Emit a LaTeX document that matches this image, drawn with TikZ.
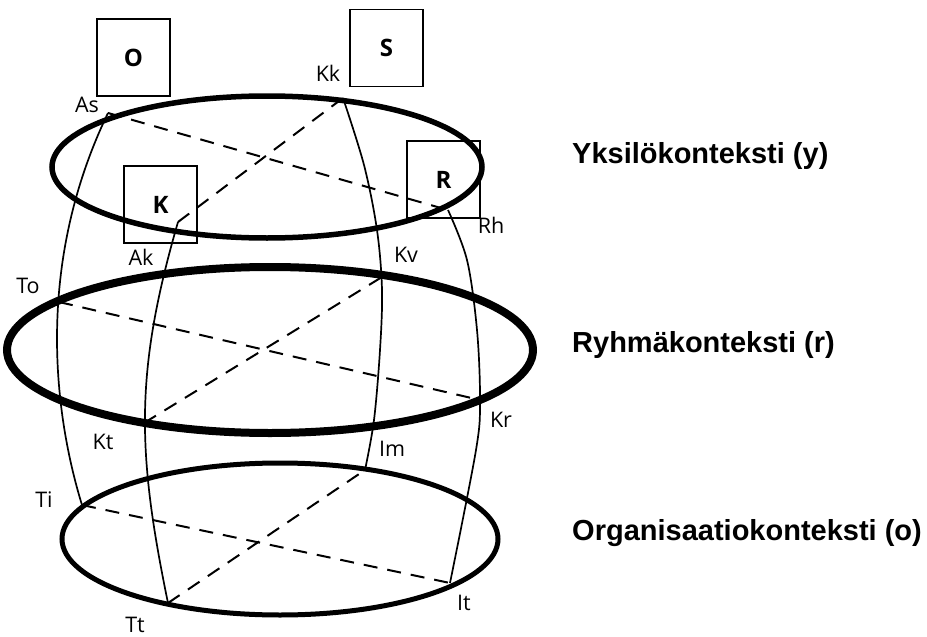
\documentclass[tikz,border=0pt]{standalone}
\usepackage{fontspec}
\setmainfont{Open Sans}
\newfontfamily\ctxfont{Liberation Sans}
\begin{document}
\begin{tikzpicture}[x=1pt,y=-1pt,
  ring/.style={line width=5.5pt},
  ringthick/.style={line width=8pt},
  ringlow/.style={line width=5pt},
  meridian/.style={line width=1.7pt},
  chord/.style={line width=2pt, dash pattern=on 14pt off 10pt},
  box/.style={draw, line width=1.5pt, minimum width=73pt, minimum height=77pt,
    inner sep=0pt, font=\fontsize{24}{24}\selectfont\bfseries},
  lbl/.style={inner sep=0pt, anchor=base, font=\fontsize{21.5}{21.5}\selectfont},
  ctx/.style={inner sep=0pt, anchor=base west,
    font=\ctxfont\fontsize{29}{29}\selectfont\bfseries}]
\useasboundingbox (0,0) rectangle (927,637);

% the three context rings
\draw[ring] (267,167) ellipse [x radius=215pt, y radius=71pt];
\draw[ringthick] (270,350) ellipse [x radius=263pt, y radius=83pt];
\draw[ringlow] (280,539) ellipse [x radius=218pt, y radius=76pt];

% meeting points on the rings
\coordinate (As) at (108,113);
\coordinate (Kk) at (343,98);
\coordinate (Ak) at (178,222);
\coordinate (Rh) at (448,210);
\coordinate (To) at (59,302);
\coordinate (Kv) at (382,277);
\coordinate (Kt) at (144,423);
\coordinate (Kr) at (480,400);
\coordinate (Ti) at (82,505);
\coordinate (Im) at (365,470);
\coordinate (Tt) at (168,603);
\coordinate (It) at (450,583);

% meridians joining the rings
\draw[meridian] (As) .. controls (30.7,273.5) and (58,427) .. (Ti);
\draw[meridian] (Ak) .. controls (134.6,372) and (136.8,451.6) .. (Tt);
\draw[meridian] plot[smooth, tension=0.55] coordinates
  {(Kk) (364,165) (377,230) (382,290) (380,350) (374,420) (Im)};
\draw[meridian] plot[smooth, tension=0.55] coordinates
  {(Rh) (467,260) (477,330) (Kr) (476,450) (It)};

% dashed chords across each ring
\draw[chord] (As) -- (Rh);
\draw[chord] (Ak) -- (Kk);
\draw[chord] (To) -- (Kr);
\draw[chord] (Kt) -- (Kv);
\draw[chord] (Ti) -- (It);
\draw[chord] (Tt) -- (Im);

% boxes
\node[box] (boxO) at (133.5,57.5) {O};
\node[box] (boxS) at (386.5,48) {S};
\node[box] (boxR) at (443.5,179.5) {R};
\node[box] (boxK) at (160.5,204.5) {K};

% point labels
\node[lbl] (lAs) at (87,112) {As};
\node[lbl] (lKk) at (328,81) {Kk};
\node[lbl] (lRh) at (491,233) {Rh};
\node[lbl] (lAk) at (141,265) {Ak};
\node[lbl] (lKv) at (406,262) {Kv};
\node[lbl] (lTo) at (28,293) {To};
\node[lbl] (lKt) at (103,449) {Kt};
\node[lbl] (lIm) at (392,456) {Im};
\node[lbl] (lKr) at (501,427) {Kr};
\node[lbl] (lTi) at (44,507) {Ti};
\node[lbl] (lTt) at (135,632) {Tt};
\node[lbl] (lIt) at (464,610) {It};

% context names
\node[ctx] (cy) at (572,163) {Yksilökonteksti (y)};
\node[ctx] (cr) at (572,352) {Ryhmäkonteksti (r)};
\node[ctx] (co) at (572,540) {Organisaatiokonteksti (o)};
\end{tikzpicture}
\end{document}
